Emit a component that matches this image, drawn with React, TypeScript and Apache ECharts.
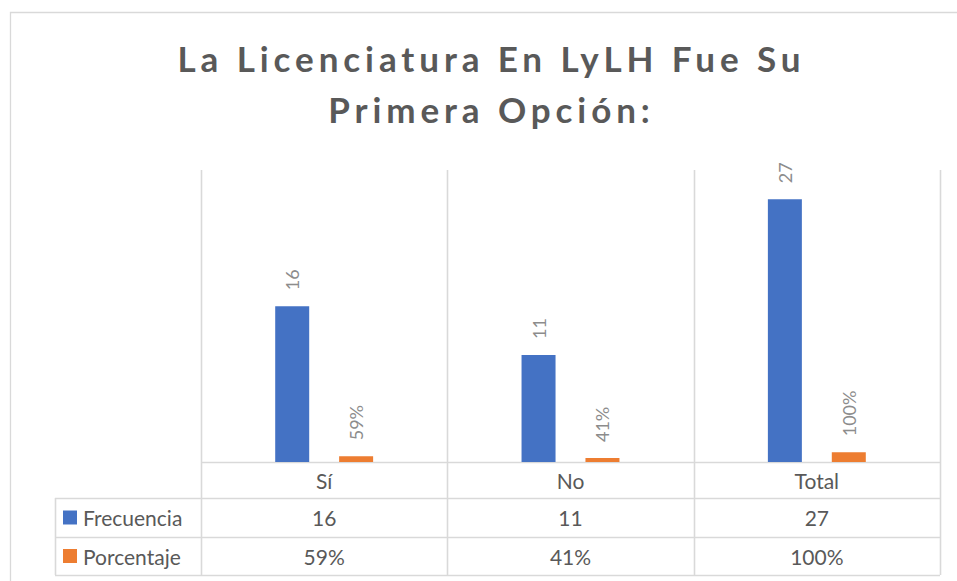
import React, { useEffect, useRef } from "react";
import * as echarts from "echarts";

const categories = ["Sí", "No", "Total"];
const frecuencia = [16, 11, 27];
const porcentaje = [0.59, 0.41, 1.0];
const seriesNames = ["Frecuencia", "Porcentaje"];
const titleLines = ["La Licenciatura En LyLH Fue Su", "Primera Opción:"];

const W = 957;
const H = 581;
const GRID_L = 201;
const GRID_R = 940;
const GRID_T = 170;
const BASE = 462;
const ROW_Y = [462, 498, 537, 575];
const TABLE_L = 55;
const FONT = "Lato, 'Noto Sans', sans-serif";
const LINE = "#d9d9d9";
const TXT = "#595959";
const COLORS = ["#4472C4", "#ED7D31"];
const TITLE_X = 489;
const TITLE_Y = [58, 109];
const TITLE_W = 623;
const TITLE_FONT = `bold 35px ${FONT}`;

const pct = (v: number) => Math.round(v * 100) + "%";

export default function App() {
  const ref = useRef<HTMLDivElement>(null);
  useEffect(() => {
    document.body.style.margin = "0";
    const chart = echarts.init(ref.current!, null, { renderer: "svg" });
    const catW = (GRID_R - GRID_L) / categories.length;
    const lineStyle = { stroke: LINE, lineWidth: 1.6 };
    const graphics: any[] = [];

    const canvas = document.createElement("canvas");
    const ctx = canvas.getContext("2d")!;
    ctx.font = TITLE_FONT;
    const w0 = ctx.measureText(titleLines[0]).width;
    const spacing = Math.max(0, (TITLE_W - w0) / (titleLines[0].length - 1));

    graphics.push({
      type: "rect",
      shape: { x: 10.5, y: 12.5, width: 1000, height: 1000 },
      style: { fill: "none", stroke: LINE, lineWidth: 1.3 },
      silent: true,
    });
    titleLines.forEach((t, i) => {
      graphics.push({
        type: "text",
        x: TITLE_X + spacing / 2,
        y: TITLE_Y[i],
        style: { text: t, font: TITLE_FONT, fill: TXT, align: "center", verticalAlign: "middle" },
        silent: true,
      });
    });
    // vertical lines
    for (let i = 0; i <= categories.length; i++) {
      const x = Math.round(GRID_L + i * catW) + 0.5;
      graphics.push({ type: "line", shape: { x1: x, y1: GRID_T, x2: x, y2: ROW_Y[3] }, style: lineStyle, silent: true });
    }
    graphics.push({ type: "line", shape: { x1: TABLE_L + 0.5, y1: ROW_Y[1], x2: TABLE_L + 0.5, y2: ROW_Y[3] }, style: lineStyle, silent: true });
    // horizontal lines
    graphics.push({ type: "line", shape: { x1: GRID_L, y1: ROW_Y[0] + 0.5, x2: GRID_R, y2: ROW_Y[0] + 0.5 }, style: lineStyle, silent: true });
    for (let r = 1; r < ROW_Y.length; r++) {
      graphics.push({ type: "line", shape: { x1: TABLE_L, y1: ROW_Y[r] + 0.5, x2: GRID_R, y2: ROW_Y[r] + 0.5 }, style: lineStyle, silent: true });
    }
    // table rows
    const rows = [frecuencia.map(String), porcentaje.map(pct)];
    rows.forEach((vals, r) => {
      const cy = (ROW_Y[r + 1] + ROW_Y[r + 2]) / 2;
      graphics.push({ type: "rect", shape: { x: 63, y: cy - 7, width: 14, height: 14 }, style: { fill: COLORS[r] }, silent: true });
      graphics.push({
        type: "text",
        x: 83,
        y: cy,
        style: { text: seriesNames[r], font: `21px ${FONT}`, fill: TXT, align: "left", verticalAlign: "middle" },
        silent: true,
      });
      vals.forEach((v, i) => {
        graphics.push({
          type: "text",
          x: GRID_L + (i + 0.5) * catW,
          y: cy,
          style: { text: v, font: `21px ${FONT}`, fill: TXT, align: "center", verticalAlign: "middle" },
          silent: true,
        });
      });
    });

    const labelCommon = {
      show: true,
      position: "top" as const,
      rotate: 90,
      align: "left" as const,
      verticalAlign: "middle" as const,
      distance: 16,
      color: "#8c8c8c",
      fontSize: 18,
      fontFamily: FONT,
    };

    chart.setOption({
      animation: false,
      grid: { left: GRID_L, right: W - GRID_R, top: GRID_T, bottom: H - BASE, containLabel: false },
      xAxis: {
        type: "category",
        data: categories,
        axisLine: { show: false },
        axisTick: { show: false },
        splitLine: { show: false },
        axisLabel: { color: TXT, fontSize: 21, fontFamily: FONT, margin: 8 },
      },
      yAxis: { type: "value", min: 0, max: 30, show: false, splitLine: { show: false } },
      series: [
        {
          name: seriesNames[0],
          type: "bar",
          data: frecuencia,
          barWidth: 34,
          barGap: "88%",
          itemStyle: { color: COLORS[0] },
          label: { ...labelCommon },
          silent: true,
        },
        {
          name: seriesNames[1],
          type: "bar",
          data: porcentaje,
          barWidth: 34,
          itemStyle: { color: COLORS[1] },
          label: { ...labelCommon, formatter: (p: any) => pct(p.value) },
          silent: true,
        },
      ],
      graphic: graphics,
    });

    // Excel-style letter spacing on the title lines
    const texts = ref.current?.querySelectorAll("text") || [];
    texts.forEach((t) => {
      if (titleLines.includes(t.textContent || "")) {
        t.setAttribute("letter-spacing", spacing.toFixed(2));
      }
    });

    return () => chart.dispose();
  }, []);
  return <div ref={ref} style={{ width: W, height: H }} />;
}
